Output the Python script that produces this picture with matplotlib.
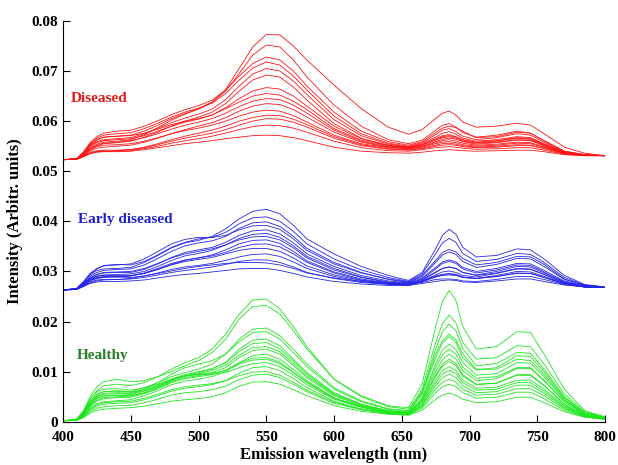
import matplotlib
matplotlib.use("Agg")
import matplotlib.pyplot as plt

# sampled emission wavelengths (nm)
wavelength = [400, 410, 415, 420, 425, 430, 440, 450, 460, 470, 480, 490, 500, 510, 520, 530,
              540, 550, 560, 570, 580, 600, 620, 640, 655, 665, 675, 680, 685, 690, 695, 705,
              720, 735, 745, 755, 770, 785, 800]

# intensity spectra, one row per leaf
diseased = [
    [0.0523, 0.0525, 0.0534, 0.0546, 0.0554, 0.0558, 0.0560, 0.0563, 0.0573, 0.0587, 0.0602, 0.0614, 0.0624, 0.0637, 0.0663, 0.0705,
     0.0748, 0.0773, 0.0772, 0.0750, 0.0722, 0.0672, 0.0625, 0.0588, 0.0574, 0.0583, 0.0605, 0.0616, 0.0620, 0.0612, 0.0598, 0.0588,
     0.0590, 0.0596, 0.0592, 0.0575, 0.0548, 0.0536, 0.0531],
    [0.0523, 0.0525, 0.0536, 0.0552, 0.0562, 0.0568, 0.0570, 0.0572, 0.0580, 0.0592, 0.0605, 0.0615, 0.0625, 0.0638, 0.0660, 0.0695,
     0.0732, 0.0752, 0.0748, 0.0722, 0.0688, 0.0632, 0.0590, 0.0563, 0.0555, 0.0562, 0.0582, 0.0592, 0.0595, 0.0588, 0.0577, 0.0568,
     0.0572, 0.0580, 0.0576, 0.0561, 0.0540, 0.0533, 0.0531],
    [0.0523, 0.0525, 0.0537, 0.0555, 0.0566, 0.0572, 0.0575, 0.0577, 0.0585, 0.0596, 0.0608, 0.0618, 0.0626, 0.0636, 0.0655, 0.0682,
     0.0706, 0.0718, 0.0712, 0.0690, 0.0662, 0.0610, 0.0575, 0.0556, 0.0550, 0.0557, 0.0573, 0.0582, 0.0585, 0.0579, 0.0570, 0.0563,
     0.0567, 0.0575, 0.0572, 0.0558, 0.0539, 0.0533, 0.0531],
    [0.0523, 0.0525, 0.0536, 0.0551, 0.0559, 0.0563, 0.0565, 0.0567, 0.0575, 0.0586, 0.0597, 0.0606, 0.0614, 0.0624, 0.0643, 0.0670,
     0.0694, 0.0705, 0.0700, 0.0680, 0.0653, 0.0603, 0.0571, 0.0554, 0.0549, 0.0555, 0.0568, 0.0576, 0.0579, 0.0574, 0.0566, 0.0560,
     0.0563, 0.0569, 0.0567, 0.0555, 0.0538, 0.0532, 0.0531],
    [0.0523, 0.0524, 0.0533, 0.0545, 0.0551, 0.0555, 0.0557, 0.0560, 0.0568, 0.0578, 0.0590, 0.0600, 0.0608, 0.0618, 0.0635, 0.0660,
     0.0682, 0.0692, 0.0688, 0.0668, 0.0642, 0.0595, 0.0566, 0.0551, 0.0547, 0.0552, 0.0562, 0.0567, 0.0569, 0.0566, 0.0560, 0.0556,
     0.0558, 0.0563, 0.0562, 0.0552, 0.0537, 0.0532, 0.0531],
    [0.0523, 0.0525, 0.0537, 0.0553, 0.0563, 0.0568, 0.0570, 0.0571, 0.0576, 0.0584, 0.0593, 0.0600, 0.0605, 0.0612, 0.0625, 0.0638,
     0.0650, 0.0655, 0.0652, 0.0640, 0.0623, 0.0585, 0.0562, 0.0551, 0.0548, 0.0553, 0.0565, 0.0571, 0.0573, 0.0569, 0.0563, 0.0558,
     0.0561, 0.0567, 0.0565, 0.0554, 0.0538, 0.0532, 0.0531],
    [0.0523, 0.0524, 0.0531, 0.0541, 0.0546, 0.0548, 0.0550, 0.0552, 0.0558, 0.0566, 0.0575, 0.0583, 0.0590, 0.0597, 0.0607, 0.0620,
     0.0630, 0.0635, 0.0633, 0.0623, 0.0608, 0.0578, 0.0558, 0.0548, 0.0545, 0.0549, 0.0557, 0.0561, 0.0563, 0.0560, 0.0556, 0.0552,
     0.0554, 0.0558, 0.0557, 0.0549, 0.0537, 0.0532, 0.0531],
    [0.0523, 0.0524, 0.0532, 0.0543, 0.0549, 0.0552, 0.0553, 0.0555, 0.0560, 0.0567, 0.0575, 0.0581, 0.0586, 0.0592, 0.0600, 0.0610,
     0.0618, 0.0622, 0.0620, 0.0611, 0.0598, 0.0572, 0.0555, 0.0547, 0.0545, 0.0548, 0.0555, 0.0558, 0.0559, 0.0557, 0.0553, 0.0550,
     0.0552, 0.0556, 0.0555, 0.0548, 0.0536, 0.0532, 0.0531],
    [0.0523, 0.0524, 0.0530, 0.0538, 0.0541, 0.0542, 0.0542, 0.0543, 0.0547, 0.0553, 0.0560, 0.0566, 0.0571, 0.0576, 0.0583, 0.0592,
     0.0600, 0.0605, 0.0604, 0.0598, 0.0588, 0.0566, 0.0551, 0.0544, 0.0542, 0.0545, 0.0550, 0.0552, 0.0553, 0.0552, 0.0549, 0.0547,
     0.0548, 0.0551, 0.0551, 0.0545, 0.0535, 0.0532, 0.0531],
    [0.0523, 0.0524, 0.0529, 0.0536, 0.0539, 0.0540, 0.0540, 0.0541, 0.0545, 0.0550, 0.0556, 0.0561, 0.0565, 0.0570, 0.0576, 0.0583,
     0.0589, 0.0592, 0.0591, 0.0586, 0.0578, 0.0560, 0.0547, 0.0541, 0.0540, 0.0543, 0.0547, 0.0548, 0.0549, 0.0548, 0.0546, 0.0544,
     0.0545, 0.0547, 0.0547, 0.0542, 0.0534, 0.0531, 0.0531],
    [0.0523, 0.0524, 0.0529, 0.0535, 0.0538, 0.0539, 0.0539, 0.0540, 0.0543, 0.0547, 0.0551, 0.0555, 0.0558, 0.0561, 0.0565, 0.0568,
     0.0571, 0.0572, 0.0571, 0.0567, 0.0561, 0.0548, 0.0540, 0.0537, 0.0536, 0.0538, 0.0541, 0.0542, 0.0543, 0.0542, 0.0541, 0.0540,
     0.0541, 0.0542, 0.0542, 0.0539, 0.0533, 0.0531, 0.0531],
    [0.0523, 0.0525, 0.0535, 0.0549, 0.0557, 0.0561, 0.0563, 0.0565, 0.0571, 0.0580, 0.0590, 0.0598, 0.0604, 0.0612, 0.0627, 0.0645,
     0.0660, 0.0667, 0.0664, 0.0650, 0.0630, 0.0590, 0.0565, 0.0552, 0.0548, 0.0553, 0.0563, 0.0569, 0.0571, 0.0568, 0.0562, 0.0557,
     0.0560, 0.0566, 0.0564, 0.0553, 0.0537, 0.0532, 0.0531],
    [0.0523, 0.0524, 0.0529, 0.0536, 0.0539, 0.0540, 0.0541, 0.0543, 0.0548, 0.0555, 0.0563, 0.0570, 0.0576, 0.0582, 0.0590, 0.0600,
     0.0607, 0.0612, 0.0611, 0.0604, 0.0593, 0.0569, 0.0553, 0.0545, 0.0543, 0.0546, 0.0552, 0.0555, 0.0556, 0.0554, 0.0551, 0.0548,
     0.0550, 0.0553, 0.0552, 0.0546, 0.0536, 0.0532, 0.0531],
    [0.0523, 0.0525, 0.0538, 0.0557, 0.0569, 0.0576, 0.0580, 0.0582, 0.0590, 0.0601, 0.0613, 0.0623, 0.0631, 0.0642, 0.0662, 0.0690,
     0.0715, 0.0728, 0.0722, 0.0700, 0.0670, 0.0618, 0.0580, 0.0559, 0.0552, 0.0559, 0.0577, 0.0586, 0.0590, 0.0587, 0.0580, 0.0567,
     0.0569, 0.0578, 0.0576, 0.0561, 0.0540, 0.0533, 0.0531],
    [0.0523, 0.0524, 0.0533, 0.0545, 0.0552, 0.0556, 0.0558, 0.0561, 0.0567, 0.0575, 0.0584, 0.0592, 0.0598, 0.0605, 0.0616, 0.0629,
     0.0640, 0.0645, 0.0643, 0.0632, 0.0616, 0.0582, 0.0560, 0.0549, 0.0546, 0.0550, 0.0559, 0.0564, 0.0566, 0.0564, 0.0559, 0.0554,
     0.0557, 0.0562, 0.0561, 0.0551, 0.0537, 0.0532, 0.0531],
]

early_diseased = [
    [0.0263, 0.0266, 0.0278, 0.0293, 0.0302, 0.0305, 0.0306, 0.0308, 0.0318, 0.0332, 0.0347, 0.0357, 0.0362, 0.0370, 0.0385, 0.0405,
     0.0420, 0.0424, 0.0415, 0.0392, 0.0365, 0.0335, 0.0310, 0.0292, 0.0282, 0.0298, 0.0345, 0.0372, 0.0384, 0.0374, 0.0348, 0.0329,
     0.0332, 0.0345, 0.0343, 0.0325, 0.0292, 0.0274, 0.0269],
    [0.0263, 0.0266, 0.0279, 0.0295, 0.0305, 0.0312, 0.0314, 0.0313, 0.0320, 0.0333, 0.0348, 0.0358, 0.0365, 0.0368, 0.0378, 0.0395,
     0.0407, 0.0409, 0.0400, 0.0380, 0.0355, 0.0325, 0.0303, 0.0288, 0.0280, 0.0295, 0.0335, 0.0357, 0.0366, 0.0358, 0.0336, 0.0320,
     0.0324, 0.0336, 0.0334, 0.0318, 0.0288, 0.0273, 0.0269],
    [0.0263, 0.0265, 0.0276, 0.0290, 0.0298, 0.0302, 0.0304, 0.0305, 0.0313, 0.0326, 0.0340, 0.0351, 0.0357, 0.0361, 0.0370, 0.0386,
     0.0397, 0.0399, 0.0390, 0.0370, 0.0346, 0.0318, 0.0298, 0.0284, 0.0278, 0.0290, 0.0318, 0.0333, 0.0339, 0.0334, 0.0320, 0.0308,
     0.0314, 0.0326, 0.0325, 0.0310, 0.0284, 0.0272, 0.0268],
    [0.0263, 0.0265, 0.0275, 0.0287, 0.0294, 0.0297, 0.0298, 0.0298, 0.0304, 0.0315, 0.0328, 0.0338, 0.0343, 0.0348, 0.0358, 0.0372,
     0.0381, 0.0383, 0.0375, 0.0357, 0.0335, 0.0310, 0.0292, 0.0281, 0.0277, 0.0287, 0.0308, 0.0319, 0.0323, 0.0319, 0.0308, 0.0300,
     0.0306, 0.0316, 0.0315, 0.0302, 0.0281, 0.0271, 0.0268],
    [0.0263, 0.0265, 0.0274, 0.0285, 0.0291, 0.0293, 0.0294, 0.0295, 0.0300, 0.0310, 0.0322, 0.0331, 0.0336, 0.0342, 0.0353, 0.0366,
     0.0374, 0.0376, 0.0368, 0.0351, 0.0330, 0.0306, 0.0289, 0.0279, 0.0276, 0.0284, 0.0299, 0.0306, 0.0309, 0.0306, 0.0298, 0.0293,
     0.0300, 0.0310, 0.0309, 0.0297, 0.0279, 0.0270, 0.0268],
    [0.0263, 0.0265, 0.0273, 0.0282, 0.0287, 0.0289, 0.0290, 0.0291, 0.0296, 0.0304, 0.0314, 0.0322, 0.0327, 0.0333, 0.0343, 0.0355,
     0.0362, 0.0363, 0.0356, 0.0340, 0.0321, 0.0299, 0.0285, 0.0277, 0.0275, 0.0281, 0.0289, 0.0292, 0.0293, 0.0292, 0.0288, 0.0286,
     0.0292, 0.0300, 0.0299, 0.0290, 0.0276, 0.0269, 0.0268],
    [0.0263, 0.0265, 0.0274, 0.0284, 0.0290, 0.0292, 0.0292, 0.0292, 0.0296, 0.0304, 0.0313, 0.0320, 0.0324, 0.0328, 0.0335, 0.0342,
     0.0346, 0.0346, 0.0340, 0.0327, 0.0311, 0.0293, 0.0282, 0.0276, 0.0274, 0.0281, 0.0293, 0.0299, 0.0301, 0.0298, 0.0292, 0.0289,
     0.0296, 0.0305, 0.0304, 0.0294, 0.0277, 0.0269, 0.0268],
    [0.0263, 0.0264, 0.0271, 0.0279, 0.0283, 0.0284, 0.0284, 0.0285, 0.0288, 0.0293, 0.0298, 0.0302, 0.0305, 0.0309, 0.0314, 0.0320,
     0.0323, 0.0323, 0.0318, 0.0309, 0.0298, 0.0286, 0.0278, 0.0274, 0.0273, 0.0278, 0.0284, 0.0285, 0.0285, 0.0284, 0.0281, 0.0280,
     0.0284, 0.0290, 0.0290, 0.0284, 0.0274, 0.0269, 0.0268],
    [0.0263, 0.0264, 0.0270, 0.0276, 0.0279, 0.0280, 0.0280, 0.0281, 0.0283, 0.0287, 0.0291, 0.0294, 0.0296, 0.0299, 0.0302, 0.0305,
     0.0306, 0.0306, 0.0302, 0.0296, 0.0289, 0.0280, 0.0275, 0.0272, 0.0272, 0.0276, 0.0280, 0.0282, 0.0283, 0.0282, 0.0279, 0.0278,
     0.0281, 0.0285, 0.0285, 0.0280, 0.0273, 0.0269, 0.0268],
    [0.0263, 0.0265, 0.0273, 0.0283, 0.0288, 0.0290, 0.0289, 0.0288, 0.0291, 0.0296, 0.0301, 0.0306, 0.0310, 0.0313, 0.0316, 0.0318,
     0.0318, 0.0317, 0.0313, 0.0306, 0.0297, 0.0287, 0.0280, 0.0275, 0.0274, 0.0281, 0.0291, 0.0294, 0.0295, 0.0293, 0.0288, 0.0286,
     0.0290, 0.0296, 0.0296, 0.0288, 0.0276, 0.0270, 0.0268],
    [0.0263, 0.0266, 0.0279, 0.0296, 0.0306, 0.0311, 0.0313, 0.0315, 0.0325, 0.0340, 0.0355, 0.0364, 0.0368, 0.0368, 0.0372, 0.0383,
     0.0391, 0.0392, 0.0384, 0.0365, 0.0342, 0.0315, 0.0297, 0.0285, 0.0279, 0.0292, 0.0322, 0.0338, 0.0344, 0.0339, 0.0326, 0.0313,
     0.0318, 0.0330, 0.0329, 0.0314, 0.0285, 0.0272, 0.0268],
    [0.0263, 0.0265, 0.0272, 0.0281, 0.0286, 0.0288, 0.0289, 0.0291, 0.0297, 0.0306, 0.0316, 0.0323, 0.0327, 0.0331, 0.0338, 0.0348,
     0.0354, 0.0355, 0.0349, 0.0335, 0.0318, 0.0297, 0.0283, 0.0276, 0.0274, 0.0282, 0.0298, 0.0306, 0.0309, 0.0306, 0.0298, 0.0292,
     0.0297, 0.0306, 0.0305, 0.0294, 0.0277, 0.0269, 0.0268],
    [0.0263, 0.0264, 0.0270, 0.0277, 0.0281, 0.0283, 0.0284, 0.0286, 0.0291, 0.0297, 0.0304, 0.0309, 0.0312, 0.0316, 0.0322, 0.0329,
     0.0334, 0.0335, 0.0330, 0.0319, 0.0306, 0.0290, 0.0280, 0.0275, 0.0273, 0.0279, 0.0289, 0.0294, 0.0296, 0.0294, 0.0289, 0.0286,
     0.0290, 0.0297, 0.0296, 0.0288, 0.0275, 0.0269, 0.0268],
    [0.0263, 0.0265, 0.0275, 0.0287, 0.0294, 0.0298, 0.0299, 0.0300, 0.0306, 0.0316, 0.0327, 0.0335, 0.0340, 0.0345, 0.0353, 0.0363,
     0.0369, 0.0370, 0.0363, 0.0347, 0.0327, 0.0303, 0.0288, 0.0278, 0.0275, 0.0285, 0.0305, 0.0316, 0.0320, 0.0316, 0.0305, 0.0297,
     0.0303, 0.0313, 0.0312, 0.0299, 0.0279, 0.0270, 0.0268],
]

healthy = [
    [0.0002, 0.0005, 0.0020, 0.0045, 0.0062, 0.0072, 0.0075, 0.0072, 0.0078, 0.0090, 0.0105, 0.0118, 0.0128, 0.0145, 0.0175, 0.0215,
     0.0243, 0.0245, 0.0225, 0.0190, 0.0150, 0.0085, 0.0050, 0.0030, 0.0025, 0.0060, 0.0135, 0.0162, 0.0175, 0.0163, 0.0135, 0.0105,
     0.0105, 0.0125, 0.0122, 0.0095, 0.0045, 0.0015, 0.0008],
    [0.0002, 0.0005, 0.0022, 0.0050, 0.0070, 0.0080, 0.0085, 0.0080, 0.0082, 0.0090, 0.0100, 0.0112, 0.0122, 0.0138, 0.0165, 0.0205,
     0.0230, 0.0232, 0.0215, 0.0182, 0.0145, 0.0085, 0.0052, 0.0032, 0.0028, 0.0075, 0.0190, 0.0240, 0.0262, 0.0242, 0.0190, 0.0145,
     0.0150, 0.0180, 0.0178, 0.0135, 0.0065, 0.0022, 0.0010],
    [0.0002, 0.0004, 0.0018, 0.0040, 0.0055, 0.0060, 0.0062, 0.0060, 0.0068, 0.0078, 0.0090, 0.0098, 0.0105, 0.0115, 0.0135, 0.0165,
     0.0185, 0.0187, 0.0172, 0.0145, 0.0115, 0.0068, 0.0042, 0.0026, 0.0022, 0.0065, 0.0158, 0.0196, 0.0213, 0.0197, 0.0158, 0.0125,
     0.0128, 0.0152, 0.0150, 0.0115, 0.0055, 0.0020, 0.0009],
    [0.0002, 0.0004, 0.0016, 0.0037, 0.0050, 0.0055, 0.0056, 0.0056, 0.0065, 0.0078, 0.0095, 0.0108, 0.0115, 0.0122, 0.0135, 0.0160,
     0.0178, 0.0180, 0.0165, 0.0138, 0.0110, 0.0065, 0.0040, 0.0025, 0.0020, 0.0055, 0.0128, 0.0157, 0.0170, 0.0158, 0.0128, 0.0103,
     0.0108, 0.0132, 0.0130, 0.0100, 0.0048, 0.0017, 0.0008],
    [0.0002, 0.0005, 0.0020, 0.0045, 0.0060, 0.0065, 0.0066, 0.0063, 0.0068, 0.0075, 0.0085, 0.0092, 0.0098, 0.0105, 0.0118, 0.0145,
     0.0163, 0.0165, 0.0152, 0.0125, 0.0098, 0.0058, 0.0035, 0.0022, 0.0018, 0.0048, 0.0115, 0.0143, 0.0155, 0.0144, 0.0118, 0.0093,
     0.0096, 0.0118, 0.0117, 0.0090, 0.0043, 0.0016, 0.0008],
    [0.0002, 0.0004, 0.0014, 0.0032, 0.0043, 0.0048, 0.0050, 0.0051, 0.0058, 0.0068, 0.0080, 0.0088, 0.0092, 0.0098, 0.0108, 0.0128,
     0.0142, 0.0145, 0.0135, 0.0112, 0.0088, 0.0052, 0.0032, 0.0020, 0.0017, 0.0043, 0.0100, 0.0124, 0.0135, 0.0125, 0.0102, 0.0082,
     0.0086, 0.0106, 0.0106, 0.0082, 0.0040, 0.0015, 0.0007],
    [0.0002, 0.0004, 0.0012, 0.0027, 0.0036, 0.0040, 0.0042, 0.0044, 0.0052, 0.0062, 0.0074, 0.0081, 0.0085, 0.0090, 0.0100, 0.0118,
     0.0132, 0.0135, 0.0125, 0.0104, 0.0082, 0.0048, 0.0030, 0.0019, 0.0016, 0.0040, 0.0093, 0.0115, 0.0125, 0.0116, 0.0094, 0.0075,
     0.0077, 0.0093, 0.0092, 0.0072, 0.0035, 0.0013, 0.0006],
    [0.0002, 0.0004, 0.0015, 0.0035, 0.0047, 0.0052, 0.0053, 0.0052, 0.0058, 0.0068, 0.0082, 0.0092, 0.0095, 0.0097, 0.0102, 0.0115,
     0.0123, 0.0125, 0.0116, 0.0098, 0.0078, 0.0047, 0.0030, 0.0019, 0.0016, 0.0036, 0.0083, 0.0102, 0.0110, 0.0102, 0.0083, 0.0067,
     0.0069, 0.0083, 0.0083, 0.0065, 0.0032, 0.0012, 0.0006],
    [0.0002, 0.0003, 0.0010, 0.0023, 0.0031, 0.0035, 0.0037, 0.0038, 0.0044, 0.0052, 0.0061, 0.0067, 0.0070, 0.0074, 0.0082, 0.0097,
     0.0108, 0.0110, 0.0102, 0.0086, 0.0068, 0.0041, 0.0026, 0.0017, 0.0015, 0.0032, 0.0072, 0.0088, 0.0095, 0.0088, 0.0072, 0.0058,
     0.0060, 0.0073, 0.0073, 0.0057, 0.0028, 0.0011, 0.0006],
    [0.0002, 0.0003, 0.0009, 0.0020, 0.0027, 0.0030, 0.0032, 0.0033, 0.0038, 0.0045, 0.0053, 0.0058, 0.0060, 0.0064, 0.0071, 0.0084,
     0.0093, 0.0095, 0.0088, 0.0075, 0.0060, 0.0037, 0.0024, 0.0016, 0.0014, 0.0027, 0.0058, 0.0070, 0.0075, 0.0070, 0.0058, 0.0047,
     0.0049, 0.0059, 0.0059, 0.0046, 0.0023, 0.0010, 0.0005],
    [0.0002, 0.0003, 0.0008, 0.0017, 0.0023, 0.0025, 0.0027, 0.0028, 0.0031, 0.0036, 0.0041, 0.0044, 0.0046, 0.0050, 0.0058, 0.0071,
     0.0079, 0.0080, 0.0075, 0.0064, 0.0052, 0.0032, 0.0021, 0.0015, 0.0013, 0.0023, 0.0045, 0.0053, 0.0057, 0.0053, 0.0045, 0.0038,
     0.0040, 0.0049, 0.0049, 0.0038, 0.0020, 0.0009, 0.0005],
    [0.0002, 0.0004, 0.0017, 0.0040, 0.0054, 0.0060, 0.0061, 0.0059, 0.0064, 0.0073, 0.0085, 0.0094, 0.0100, 0.0106, 0.0118, 0.0140,
     0.0156, 0.0158, 0.0146, 0.0121, 0.0095, 0.0056, 0.0035, 0.0022, 0.0019, 0.0058, 0.0145, 0.0180, 0.0195, 0.0181, 0.0146, 0.0112,
     0.0116, 0.0138, 0.0137, 0.0105, 0.0050, 0.0018, 0.0008],
    [0.0002, 0.0004, 0.0013, 0.0030, 0.0041, 0.0046, 0.0048, 0.0049, 0.0056, 0.0066, 0.0078, 0.0086, 0.0090, 0.0094, 0.0103, 0.0118,
     0.0127, 0.0128, 0.0119, 0.0099, 0.0079, 0.0047, 0.0030, 0.0019, 0.0016, 0.0045, 0.0108, 0.0134, 0.0145, 0.0135, 0.0109, 0.0087,
     0.0090, 0.0108, 0.0108, 0.0083, 0.0040, 0.0015, 0.0007],
    [0.0002, 0.0004, 0.0016, 0.0038, 0.0051, 0.0057, 0.0058, 0.0057, 0.0062, 0.0071, 0.0083, 0.0091, 0.0094, 0.0095, 0.0098, 0.0108,
     0.0116, 0.0118, 0.0110, 0.0093, 0.0074, 0.0045, 0.0029, 0.0018, 0.0015, 0.0034, 0.0078, 0.0095, 0.0103, 0.0096, 0.0078, 0.0063,
     0.0065, 0.0078, 0.0078, 0.0061, 0.0030, 0.0012, 0.0006],
    [0.0002, 0.0004, 0.0015, 0.0034, 0.0046, 0.0051, 0.0053, 0.0054, 0.0061, 0.0071, 0.0083, 0.0091, 0.0096, 0.0102, 0.0113, 0.0133,
     0.0148, 0.0150, 0.0140, 0.0116, 0.0091, 0.0054, 0.0033, 0.0021, 0.0017, 0.0040, 0.0090, 0.0111, 0.0120, 0.0112, 0.0091, 0.0074,
     0.0077, 0.0094, 0.0094, 0.0073, 0.0035, 0.0013, 0.0007],
    [0.0002, 0.0003, 0.0011, 0.0025, 0.0034, 0.0038, 0.0040, 0.0041, 0.0047, 0.0055, 0.0064, 0.0070, 0.0073, 0.0076, 0.0082, 0.0092,
     0.0099, 0.0100, 0.0093, 0.0079, 0.0063, 0.0039, 0.0025, 0.0017, 0.0015, 0.0030, 0.0065, 0.0079, 0.0085, 0.0079, 0.0065, 0.0053,
     0.0055, 0.0066, 0.0066, 0.0052, 0.0026, 0.0010, 0.0005],
]

groups = ["Diseased", "Early diseased", "Healthy"]
yticks = [0, 0.01, 0.02, 0.03, 0.04, 0.05, 0.06, 0.07, 0.08]
ytick_labels = ["0", "0.01", "0.02", "0.03", "0.04", "0.05", "0.06", "0.07", "0.08"]
xticks = [400, 450, 500, 550, 600, 650, 700, 750, 800]

plt.rcParams["font.family"] = ["Liberation Serif", "DejaVu Serif"]
plt.rcParams["font.weight"] = "bold"

fig = plt.figure(figsize=(6.18, 4.65), dpi=100)
ax = fig.add_axes([0.102, 0.093, 0.877, 0.862])

line_col = {"Diseased": "#ff1414", "Early diseased": "#2424e8", "Healthy": "#1ee61e"}
for name, spectra in zip(groups, [diseased, early_diseased, healthy]):
    for s in spectra:
        assert len(s) == len(wavelength)
        ax.plot(wavelength, s, color=line_col[name], lw=0.6)

ax.text(406, 0.0646, "Diseased", color="#e01b1b", fontsize=11, fontweight="bold", va="center")
ax.text(411, 0.0404, "Early diseased", color="#2020d0", fontsize=11, fontweight="bold", va="center")
ax.text(410, 0.0133, "Healthy", color="#2a7f2a", fontsize=11, fontweight="bold", va="center")

ax.set_xlim(400, 800)
ax.set_ylim(0, 0.08)
ax.set_xticks(xticks)
ax.set_yticks(yticks)
ax.set_yticklabels(ytick_labels)
ax.tick_params(direction="in", length=5, labelsize=11, width=0.8)
ax.tick_params(axis="x", pad=7)
for lab in ax.get_xticklabels() + ax.get_yticklabels():
    lab.set_fontweight("bold")
ax.spines["top"].set_visible(False)
ax.spines["right"].set_visible(False)
ax.set_xlabel("Emission wavelength (nm)", fontsize=12, fontweight="bold", labelpad=2)
ax.set_ylabel("Intensity (Arbitr. units)", fontsize=12, fontweight="bold", labelpad=6)

fig.savefig("out.png", dpi=100)
